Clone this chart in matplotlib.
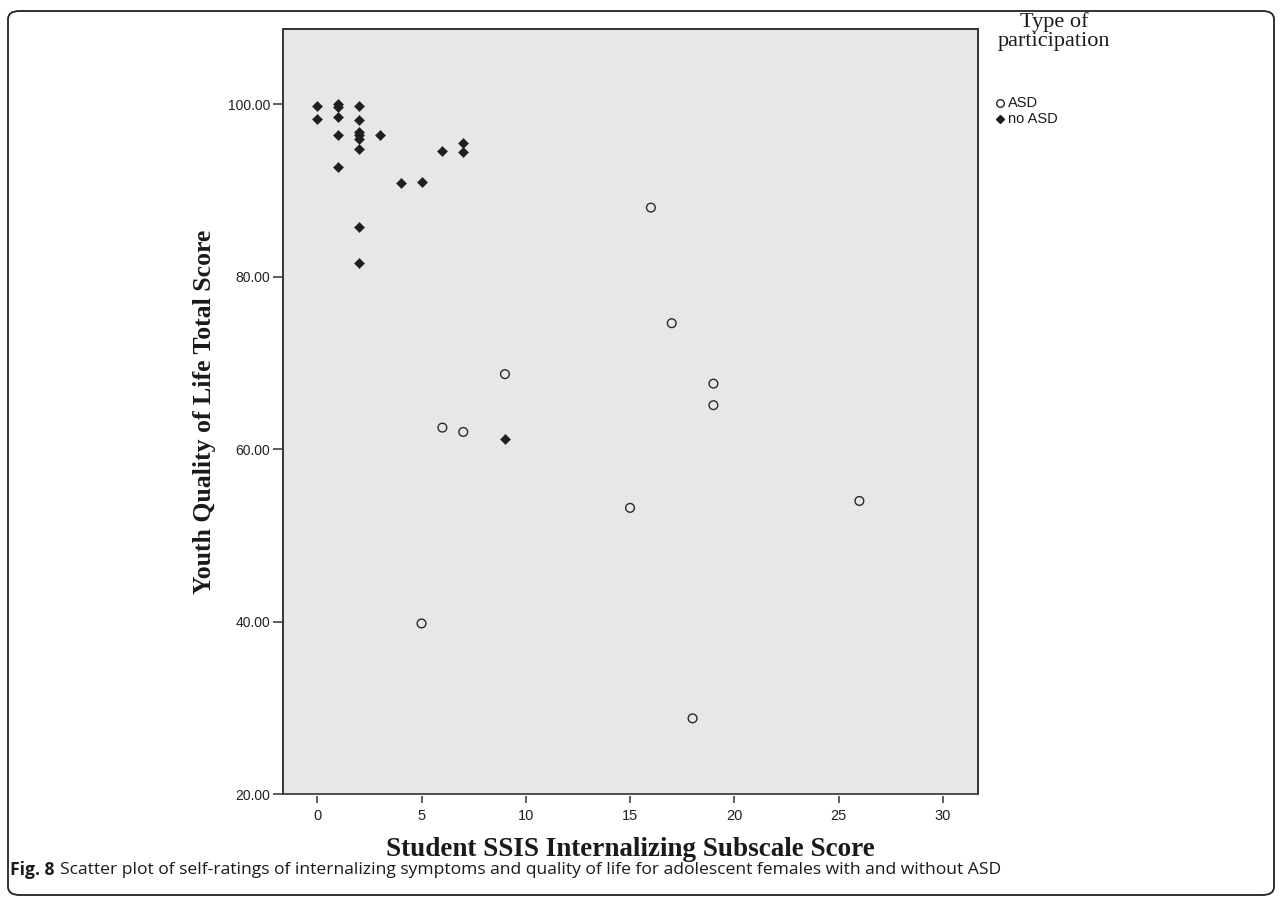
import matplotlib
matplotlib.use("Agg")
import matplotlib.pyplot as plt
from matplotlib.patches import FancyBboxPatch, Rectangle
from matplotlib.lines import Line2D

# ---- data ----
asd_x = [16, 17, 9, 19, 19, 6, 7, 15, 26, 5, 18]
asd_y = [88.0, 74.6, 68.7, 67.6, 65.1, 62.5, 62.0, 53.2, 54.0, 39.8, 28.8]

noasd_x = [0, 0, 1, 1, 1, 2, 2, 2, 2, 2, 2, 1, 3, 6, 7, 7, 1, 4, 5, 2, 2, 9]
noasd_y = [99.8, 98.3, 100.0, 99.7, 98.5, 99.8, 98.2, 96.75, 96.4, 95.9, 94.8,
           96.4, 96.4, 94.6, 95.5, 94.5, 92.7, 90.8, 91.0, 85.8, 81.6, 61.2]

x_ticks = [0, 5, 10, 15, 20, 25, 30]
y_ticks = [20, 40, 60, 80, 100]
y_tick_labels = ["20.00", "40.00", "60.00", "80.00", "100.00"]

x_label = "Student SSIS Internalizing Subscale Score"
y_label = "Youth Quality of Life Total Score"
legend_title = "Type of\nparticipation"
legend_labels = ["ASD", "no ASD"]
caption_bold = "Fig. 8"
caption_text = ("Scatter plot of self-ratings of internalizing symptoms and quality of life "
                "for adolescent females with and without ASD")

W, H = 1281, 900
fig = plt.figure(figsize=(W / 100, H / 100), dpi=100)

# outer rounded border
border = FancyBboxPatch((8 / W, 5 / H), (1274 - 8) / W, (889 - 5) / H,
                        boxstyle="round,pad=0,rounding_size=0.009",
                        transform=fig.transFigure, fill=False,
                        edgecolor="#222222", linewidth=1.3)
fig.patches.append(border)

left, right, top, bottom = 282.7, 978, 29, 794.3
ax = fig.add_axes([left / W, 1 - bottom / H, (right - left) / W, (bottom - top) / H])
ax.set_facecolor("#e6e7e9")

ax.scatter(asd_x, asd_y, marker="o", s=6.3 ** 2, facecolors="none",
           edgecolors="#2a2a2a", linewidths=1.0, zorder=3)
ax.scatter(noasd_x, noasd_y, marker="D", s=5.2 ** 2, facecolors="#1f1f1f",
           edgecolors="#1f1f1f", linewidths=0.3, zorder=3)

ax.set_xlim(-1.66, 31.69)
ax.set_ylim(20, 108.7)
ax.set_xticks(x_ticks)
ax.set_yticks(y_ticks)
ax.set_yticklabels(y_tick_labels)

for s in ax.spines.values():
    s.set_color("#333333")
    s.set_linewidth(1.2)
ax.spines["bottom"].set_position(("outward", 1.5))
ax.spines["bottom"].set_visible(False)
frame = Rectangle((0, 0), 1, 1, transform=ax.transAxes, fill=False,
                  edgecolor="#333333", linewidth=1.2, zorder=5, clip_on=False)
ax.add_patch(frame)

ax.tick_params(axis="y", direction="out", length=7.2, width=1.1, color="#333333",
               pad=2, labelsize=10, labelcolor="#222222")
ax.tick_params(axis="x", direction="out", length=5.2, width=1.1, color="#333333",
               pad=4, labelsize=10.5, labelcolor="#222222")
for lab in ax.get_xticklabels() + ax.get_yticklabels():
    lab.set_family("Liberation Sans")

ax.set_xlabel(x_label, labelpad=10, family="Liberation Serif", weight="bold",
              size=19.5, color="#1a1a1a")
ax.set_ylabel(y_label, labelpad=8, family="Liberation Serif", weight="bold",
              size=18.5, color="#1a1a1a")

# legend
fig.text(1054 / W, 1 - 12 / H, legend_title, ha="center", va="top",
         family="Liberation Serif", size=16, color="#1a1a1a", linespacing=1.0)
leg_y = [103, 119]
fig.add_artist(Line2D([1000 / W], [1 - leg_y[0] / H], marker="o", markersize=5.5,
                      markerfacecolor="none", markeredgecolor="#2a2a2a",
                      markeredgewidth=1.0, linestyle="none", transform=fig.transFigure))
fig.add_artist(Line2D([1000 / W], [1 - leg_y[1] / H], marker="D", markersize=4.5,
                      markerfacecolor="#1f1f1f", markeredgecolor="#1f1f1f",
                      linestyle="none", transform=fig.transFigure))
for yy, lab in zip(leg_y, legend_labels):
    fig.text(1008 / W, 1 - yy / H, lab, ha="left", va="center",
             family="Liberation Sans", size=10.5, color="#1a1a1a")

# caption
t1 = fig.text(10 / W, 1 - 870 / H, caption_bold, ha="left", va="center",
              family="Open Sans", weight="bold", size=12.6, color="#1a1a1a")
fig.canvas.draw()
bb = t1.get_window_extent()
fig.text((bb.x1 + 5) / W, 1 - 870 / H, caption_text, ha="left", va="center",
         family="Open Sans", size=12.6, color="#1a1a1a")

fig.savefig("out.png", dpi=100)
